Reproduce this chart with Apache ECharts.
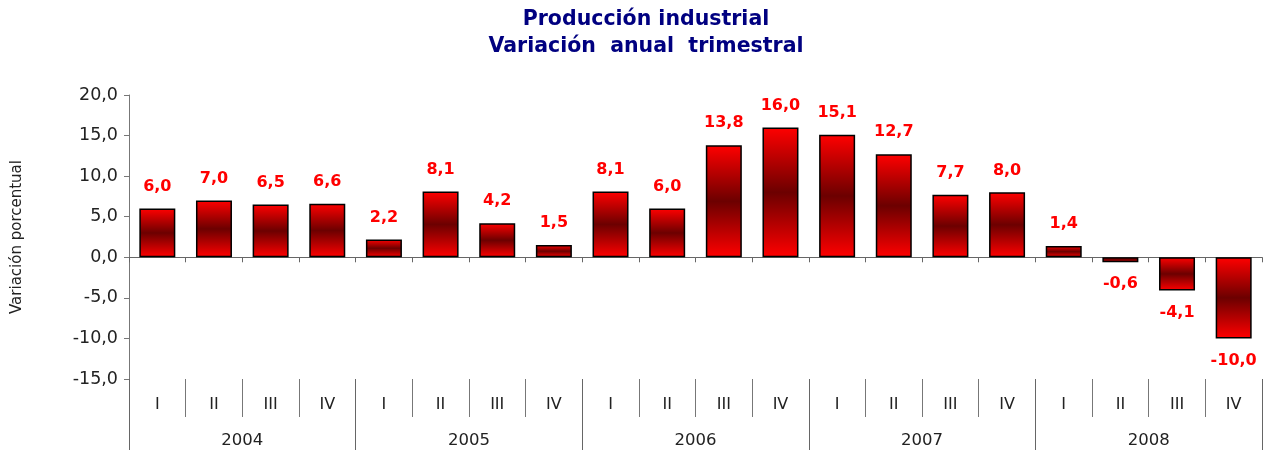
<!DOCTYPE html>
<html>
<head>
<meta charset="utf-8">
<script src="https://cdn.jsdelivr.net/npm/echarts@6/dist/echarts.min.js"></script>
<style>
  html, body { margin: 0; padding: 0; background: #fff; }
  #chart { width: 1265px; height: 450px; }
</style>
</head>
<body>
<div id="chart"></div>
<script>
const quarters = ['I', 'II', 'III', 'IV', 'I', 'II', 'III', 'IV', 'I', 'II', 'III', 'IV',
  'I', 'II', 'III', 'IV', 'I', 'II', 'III', 'IV'];
const years = ['2004', '2005', '2006', '2007', '2008'];
const variacion = [6.0, 7.0, 6.5, 6.6, 2.2, 8.1, 4.2, 1.5, 8.1, 6.0, 13.8, 16.0,
  15.1, 12.7, 7.7, 8.0, 1.4, -0.6, -4.1, -10.0];

const fmt = v => v.toFixed(1).replace('.', ',');
const font = '"DejaVu Sans", Verdana, sans-serif';

let chart = echarts.init(document.getElementById('chart'));

const barColor = new echarts.graphic.LinearGradient(0, 0, 0, 1, [
  { offset: 0, color: '#ff0000' },
  { offset: 0.5, color: '#6c0000' },
  { offset: 1, color: '#ff0000' }
]);

chart.setOption({
  animation: false,
  textStyle: { fontFamily: font },
  title: {
    text: 'Producción industrial\nVariación  anual  trimestral',
    left: 641,
    textAlign: 'center',
    top: 1,
    textStyle: { color: '#000080', fontSize: 20.5, fontWeight: 'bold', lineHeight: 27, fontFamily: font }
  },
  grid: { left: 129, right: 3, top: 95, bottom: 71, containLabel: false, outerBoundsMode: 'none' },
  xAxis: [
    {
      type: 'category',
      data: quarters,
      axisLine: { onZero: true, lineStyle: { color: '#666', width: 1 } },
      axisTick: { show: true, length: 5, interval: 0, lineStyle: { color: '#666' } },
      axisLabel: { show: false }
    },
    {
      type: 'category',
      data: quarters,
      position: 'bottom',
      axisLine: { show: false, onZero: false },
      axisTick: { show: true, length: 38, interval: 0, lineStyle: { color: '#777' } },
      axisLabel: { interval: 0, margin: 18, fontSize: 16, color: '#222', fontFamily: font }
    },
    {
      type: 'category',
      data: years,
      position: 'bottom',
      axisLine: { show: false, onZero: false },
      axisTick: { show: true, length: 71, interval: 0, lineStyle: { color: '#666' } },
      axisLabel: { interval: 0, margin: 53, fontSize: 16.5, color: '#222', fontFamily: font }
    }
  ],
  yAxis: {
    type: 'value',
    min: -15,
    max: 20,
    interval: 5,
    name: 'Variación porcentual',
    nameLocation: 'middle',
    nameRotate: 90,
    nameGap: 104,
    nameTextStyle: { fontSize: 15, color: '#222', fontFamily: font },
    axisLine: { show: true, lineStyle: { color: '#777' } },
    axisTick: { show: true, length: 5, lineStyle: { color: '#777' } },
    splitLine: { show: false },
    axisLabel: { fontSize: 17.5, color: '#222', margin: 11, formatter: v => fmt(v), fontFamily: font }
  },
  series: [{
    type: 'bar',
    xAxisIndex: 0,
    barWidth: 36,
    data: variacion.map(v => ({
      value: v,
      label: { position: v < 0 ? 'bottom' : 'top' }
    })),
    itemStyle: { color: barColor, borderColor: '#000', borderWidth: 1.5 },
    label: {
      show: true,
      distance: 14,
      color: '#ff0000',
      fontSize: 16,
      fontWeight: 'bold',
      fontFamily: font,
      formatter: p => fmt(p.value)
    }
  }]
});

window.addEventListener('resize', function() {
  chart.resize();
});
</script>
</body>
</html>
